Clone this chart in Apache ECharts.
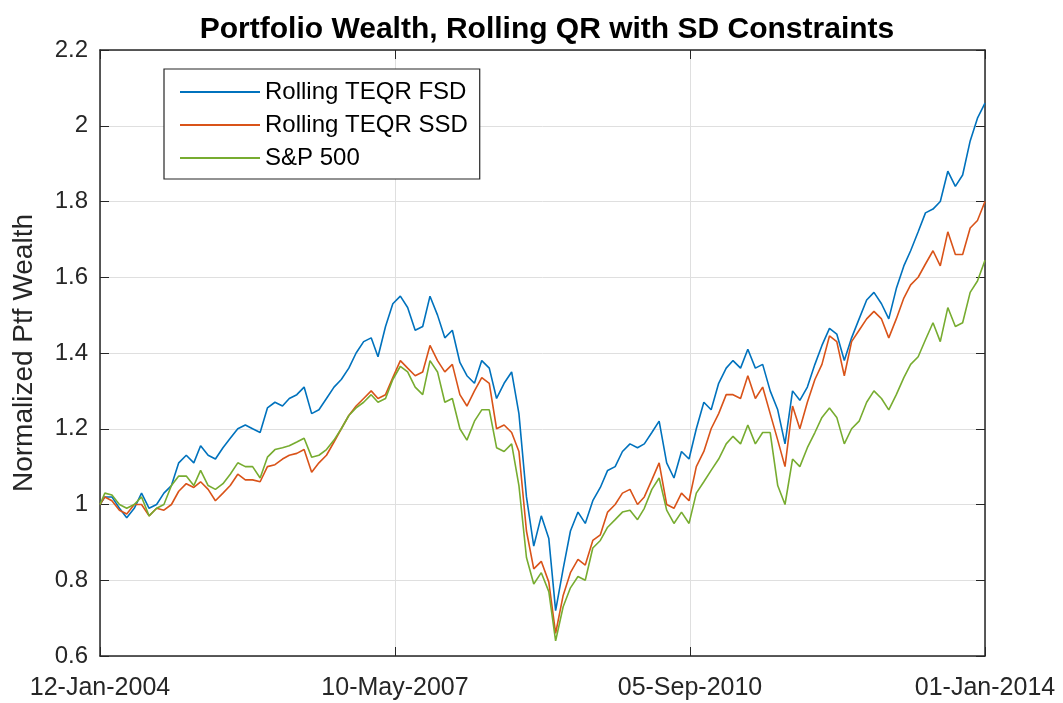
<!DOCTYPE html>
<html>
<head>
<meta charset="utf-8">
<title>Portfolio Wealth</title>
<script src="https://cdn.jsdelivr.net/npm/echarts@6/dist/echarts.min.js"></script>
<style>
  html, body { margin: 0; padding: 0; background: #fff; }
  #chart { width: 1063px; height: 703px; }
</style>
</head>
<body>
<div id="chart"></div>
<script>
// sample dates (first of each month)
const dates = [
  '2004-01-12',
  '2004-02-01', '2004-03-01', '2004-04-01', '2004-05-01', '2004-06-01', '2004-07-01',
  '2004-08-01', '2004-09-01', '2004-10-01', '2004-11-01', '2004-12-01',
  '2005-01-01', '2005-02-01', '2005-03-01', '2005-04-01', '2005-05-01', '2005-06-01',
  '2005-07-01', '2005-08-01', '2005-09-01', '2005-10-01', '2005-11-01', '2005-12-01',
  '2006-01-01', '2006-02-01', '2006-03-01', '2006-04-01', '2006-05-01', '2006-06-01',
  '2006-07-01', '2006-08-01', '2006-09-01', '2006-10-01', '2006-11-01', '2006-12-01',
  '2007-01-01', '2007-02-01', '2007-03-01', '2007-04-01', '2007-05-01', '2007-06-01',
  '2007-07-01', '2007-08-01', '2007-09-01', '2007-10-01', '2007-11-01', '2007-12-01',
  '2008-01-01', '2008-02-01', '2008-03-01', '2008-04-01', '2008-05-01', '2008-06-01',
  '2008-07-01', '2008-08-01', '2008-09-01', '2008-10-01', '2008-11-01', '2008-12-01',
  '2009-01-01', '2009-02-01', '2009-03-01', '2009-04-01', '2009-05-01', '2009-06-01',
  '2009-07-01', '2009-08-01', '2009-09-01', '2009-10-01', '2009-11-01', '2009-12-01',
  '2010-01-01', '2010-02-01', '2010-03-01', '2010-04-01', '2010-05-01', '2010-06-01',
  '2010-07-01', '2010-08-01', '2010-09-01', '2010-10-01', '2010-11-01', '2010-12-01',
  '2011-01-01', '2011-02-01', '2011-03-01', '2011-04-01', '2011-05-01', '2011-06-01',
  '2011-07-01', '2011-08-01', '2011-09-01', '2011-10-01', '2011-11-01', '2011-12-01',
  '2012-01-01', '2012-02-01', '2012-03-01', '2012-04-01', '2012-05-01', '2012-06-01',
  '2012-07-01', '2012-08-01', '2012-09-01', '2012-10-01', '2012-11-01', '2012-12-01',
  '2013-01-01', '2013-02-01', '2013-03-01', '2013-04-01', '2013-05-01', '2013-06-01',
  '2013-07-01', '2013-08-01', '2013-09-01', '2013-10-01', '2013-11-01', '2013-12-01',
  '2014-01-01'
]

const fsd = [
  1.00,
  1.02, 1.02, 0.99, 0.965, 0.99, 1.03, 0.99, 1.00, 1.03, 1.05, 1.11,
  1.13, 1.11, 1.155, 1.13, 1.12, 1.15, 1.175, 1.20, 1.21, 1.20, 1.19, 1.255,
  1.27, 1.26, 1.28, 1.29, 1.31, 1.24, 1.25, 1.28, 1.31, 1.33, 1.36, 1.40,
  1.43, 1.44, 1.39, 1.47, 1.53, 1.55, 1.52, 1.46, 1.47, 1.55, 1.50, 1.44,
  1.46, 1.375, 1.34, 1.32, 1.38, 1.36, 1.28, 1.32, 1.35, 1.24, 1.02, 0.89,
  0.97, 0.91, 0.72, 0.83, 0.93, 0.98, 0.95, 1.01, 1.045, 1.09, 1.10, 1.14,
  1.16, 1.15, 1.16, 1.19, 1.22, 1.11, 1.07, 1.14, 1.12, 1.20, 1.27, 1.25,
  1.32, 1.36, 1.38, 1.36, 1.41, 1.36, 1.37, 1.30, 1.25, 1.16, 1.30, 1.275,
  1.31, 1.37, 1.42, 1.465, 1.45, 1.38, 1.44, 1.49, 1.54, 1.56, 1.53, 1.49,
  1.57, 1.63, 1.67, 1.72, 1.77, 1.78, 1.80, 1.88, 1.84, 1.87, 1.96, 2.02,
  2.06
]

const ssd = [
  1.00,
  1.02, 1.01, 0.985, 0.975, 1.00, 1.00, 0.97, 0.99, 0.985, 1.00, 1.035,
  1.055, 1.045, 1.06, 1.04, 1.01, 1.03, 1.05, 1.08, 1.065, 1.065, 1.06, 1.10,
  1.105, 1.12, 1.13, 1.135, 1.145, 1.085, 1.11, 1.13, 1.165, 1.20, 1.235, 1.26,
  1.28, 1.30, 1.28, 1.29, 1.335, 1.38, 1.36, 1.34, 1.35, 1.42, 1.38, 1.35,
  1.37, 1.29, 1.26, 1.30, 1.335, 1.32, 1.20, 1.21, 1.19, 1.14, 0.93, 0.83,
  0.85, 0.795, 0.66, 0.76, 0.82, 0.855, 0.84, 0.905, 0.92, 0.98, 1.00, 1.03,
  1.04, 1.00, 1.02, 1.065, 1.11, 1.00, 0.99, 1.03, 1.01, 1.10, 1.14, 1.20,
  1.24, 1.29, 1.29, 1.28, 1.34, 1.28, 1.31, 1.24, 1.17, 1.10, 1.26, 1.20,
  1.27, 1.33, 1.37, 1.445, 1.43, 1.34, 1.43, 1.46, 1.49, 1.51, 1.49, 1.44,
  1.49, 1.545, 1.58, 1.60, 1.635, 1.67, 1.63, 1.72, 1.66, 1.66, 1.73, 1.75,
  1.80
]

const sp500 = [
  1.00,
  1.03, 1.025, 1.00, 0.99, 1.00, 1.02, 0.97, 0.99, 1.00, 1.05, 1.075,
  1.075, 1.05, 1.09, 1.05, 1.04, 1.055, 1.08, 1.11, 1.10, 1.10, 1.07, 1.125,
  1.145, 1.15, 1.155, 1.165, 1.175, 1.125, 1.13, 1.145, 1.17, 1.20, 1.235, 1.255,
  1.27, 1.29, 1.27, 1.28, 1.33, 1.365, 1.35, 1.31, 1.29, 1.38, 1.35, 1.27,
  1.28, 1.20, 1.17, 1.22, 1.25, 1.25, 1.15, 1.14, 1.16, 1.05, 0.86, 0.79,
  0.82, 0.77, 0.64, 0.73, 0.78, 0.81, 0.80, 0.885, 0.905, 0.94, 0.96, 0.98,
  0.985, 0.96, 0.99, 1.04, 1.07, 0.985, 0.95, 0.98, 0.95, 1.03, 1.06, 1.09,
  1.12, 1.16, 1.18, 1.16, 1.21, 1.16, 1.19, 1.19, 1.05, 1.00, 1.12, 1.10,
  1.15, 1.19, 1.23, 1.255, 1.23, 1.16, 1.20, 1.22, 1.27, 1.30, 1.28, 1.25,
  1.29, 1.335, 1.37, 1.39, 1.435, 1.48, 1.43, 1.52, 1.47, 1.48, 1.56, 1.59,
  1.645
]

const seriesNames = ['Rolling TEQR FSD', 'Rolling TEQR SSD', 'S&P 500']
const seriesColors = ['#0072BD', '#D95319', '#77AC30']
const xTickLabels = ['12-Jan-2004', '10-May-2007', '05-Sep-2010', '01-Jan-2014']

const startDate = '2004-01-12'
const endDate = '2014-01-01'

// x axis works in days counted from the first date
const DAY = 86400000
const dayOf = d => Math.round((Date.parse(d) - Date.parse(startDate)) / DAY)
const xMax = dayOf(endDate)
const xStep = xMax / 3

const toPairs = vals => vals.map((v, i) => [dayOf(dates[i]), v])

const FONT = '"Liberation Sans", Arial, Helvetica, sans-serif'
const AXIS_COLOR = '#262626'

// box line + inward ticks, shared by all four sides
const boxLine = { show: true, onZero: false, lineStyle: { color: AXIS_COLOR, width: 1.5 } }
const boxTick = { show: true, inside: true, length: 9, lineStyle: { color: AXIS_COLOR, width: 1 } }

const chart = echarts.init(document.getElementById('chart'), null, { renderer: 'canvas' })

const option = {
  backgroundColor: '#ffffff',
  animation: false,
  textStyle: { fontFamily: FONT },
  title: {
    text: 'Portfolio Wealth, Rolling QR with SD Constraints',
    left: 542,
    top: 10,
    textAlign: 'center',
    textStyle: { fontFamily: FONT, fontSize: 30, fontWeight: 'bold', color: '#000' }
  },
  legend: {
    data: seriesNames,
    orient: 'vertical',
    left: 164,
    top: 69,
    icon: 'rect',
    itemWidth: 80,
    itemHeight: 2,
    itemGap: 9,
    padding: [11, 12, 9, 16],
    borderColor: AXIS_COLOR,
    borderWidth: 1.2,
    backgroundColor: '#fff',
    textStyle: { fontFamily: FONT, fontSize: 24, color: '#000', lineHeight: 24 }
  },
  grid: { left: 100, right: 78, top: 50, bottom: 47, outerBoundsMode: 'none' },
  xAxis: [
    {
      type: 'value',
      min: 0,
      max: xMax,
      interval: xStep,
      axisLine: boxLine,
      axisTick: boxTick,
      axisLabel: {
        fontFamily: FONT,
        fontSize: 25,
        color: AXIS_COLOR,
        margin: 20,
        formatter: v => xTickLabels[Math.round(v / xStep)] || ''
      },
      splitLine: { show: true, lineStyle: { color: '#dfdfdf', width: 1 } }
    },
    {
      type: 'value',
      position: 'top',
      min: 0,
      max: xMax,
      interval: xStep,
      axisLine: boxLine,
      axisTick: boxTick,
      axisLabel: { show: false },
      splitLine: { show: false }
    }
  ],
  yAxis: [
    {
      type: 'value',
      position: 'left',
      min: 0.6,
      max: 2.2,
      interval: 0.2,
      name: 'Normalized Ptf Wealth',
      nameLocation: 'middle',
      nameGap: 62,
      nameTextStyle: { fontFamily: FONT, fontSize: 28, color: AXIS_COLOR },
      axisLine: boxLine,
      axisTick: boxTick,
      axisLabel: {
        fontFamily: FONT,
        fontSize: 24,
        color: AXIS_COLOR,
        margin: 12,
        formatter: v => String(Math.round(v * 10) / 10)
      },
      splitLine: { show: true, lineStyle: { color: '#dfdfdf', width: 1 } }
    },
    {
      type: 'value',
      position: 'right',
      min: 0.6,
      max: 2.2,
      interval: 0.2,
      axisLine: boxLine,
      axisTick: boxTick,
      axisLabel: { show: false },
      splitLine: { show: false }
    }
  ],
  series: [fsd, ssd, sp500].map((vals, i) => ({
    name: seriesNames[i],
    type: 'line',
    xAxisIndex: 0,
    yAxisIndex: 0,
    data: toPairs(vals),
    showSymbol: false,
    symbol: 'none',
    color: seriesColors[i],
    lineStyle: { color: seriesColors[i], width: 1.6 }
  }))
}

chart.setOption(option)
</script>
</body>
</html>
